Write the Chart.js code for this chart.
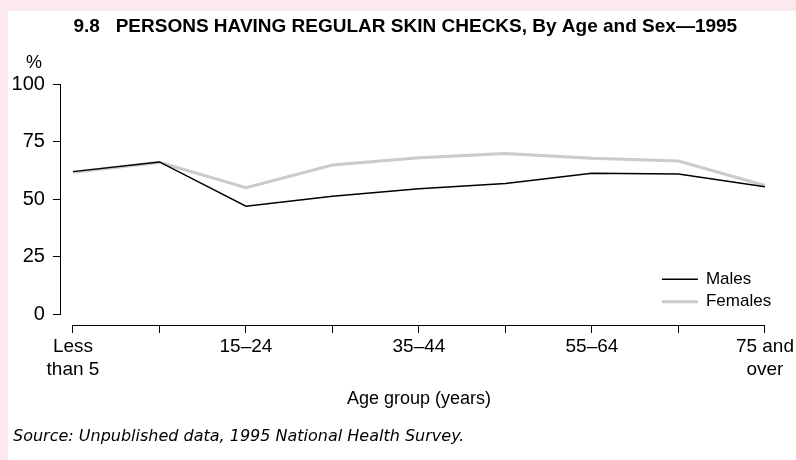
<!DOCTYPE html>
<html>
<head>
<meta charset="utf-8">
<script src="https://cdn.jsdelivr.net/npm/chart.js@4.4.1/dist/chart.umd.min.js"></script>
<style>
  html, body { margin: 0; padding: 0; }
  body { background: #fce8ef; width: 796px; height: 460px; position: relative; overflow: hidden; }
  #panel { position: absolute; left: 8px; top: 11px; width: 788px; height: 449px; background: #fff; }
  #myChart { position: absolute; left: 0; top: 0; }
</style>
</head>
<body>
<div id="panel"></div>
<canvas id="myChart" width="796" height="460"></canvas>
<script>
const categories = ['Less than 5', '5–14', '15–24', '25–34', '35–44', '45–54', '55–64', '65–74', '75 and over']
const tickLabels = [['Less', 'than 5'], '', '15–24', '', '35–44', '', '55–64', '', ['75 and', 'over']]
const males = [62.0, 66.2, 47.0, 51.3, 54.6, 56.9, 61.3, 61.0, 55.4]
const females = [61.7, 66.0, 55.0, 64.9, 68.0, 69.9, 67.8, 66.6, 56.0]
const yTicks = [0, 25, 50, 75, 100]

const FONT = '"Liberation Sans", Arial, sans-serif'
const SOURCE = 'Source: Unpublished data, 1995 National Health Survey.'

// "%" unit above the y axis
const percentSign = {
  id: 'percentSign',
  afterDraw(chart) {
    const ctx = chart.ctx
    const y = chart.scales.y
    ctx.save()
    ctx.font = '18px ' + FONT
    ctx.fillStyle = '#000'
    ctx.textAlign = 'center'
    ctx.textBaseline = 'middle'
    ctx.fillText('%', y.right - 27, chart.chartArea.top - 21)
    ctx.restore()
  }
}

// nudge the title right and the source note in, like the original
const boxShift = {
  id: 'boxShift',
  afterLayout(chart) {
    chart.boxes.forEach(b => {
      if (!b.options || b.options.text === undefined) return
      if (b === chart.titleBlock) b.left += 42
      else if (b.options.text === SOURCE) b.left += 9.4
      b.width = b.right - b.left
    })
  }
}

// line legend in the lower right of the plot
const lineLegend = {
  id: 'lineLegend',
  afterDraw(chart) {
    const ctx = chart.ctx
    const area = chart.chartArea
    ctx.save()
    ctx.font = '17px ' + FONT
    ctx.textBaseline = 'middle'
    ctx.textAlign = 'left'
    chart.data.datasets.forEach((ds, i) => {
      const y = area.bottom - 35.3 + i * 22.4
      ctx.strokeStyle = ds.borderColor
      ctx.lineWidth = ds.borderWidth
      ctx.beginPath()
      ctx.moveTo(area.right - 103, y)
      ctx.lineTo(area.right - 67, y)
      ctx.stroke()
      ctx.fillStyle = '#000'
      ctx.fillText(ds.label, area.right - 59, y)
    })
    ctx.restore()
  }
}

const ctx = document.getElementById('myChart').getContext('2d')
const myChart = new Chart(ctx, {
  type: 'line',
  data: {
    labels: categories,
    datasets: [{
      label: 'Males',
      data: males,
      borderColor: '#000000',
      borderWidth: 1.5,
      pointRadius: 0,
      tension: 0,
      xAxisID: 'x',
      yAxisID: 'y'
    }, {
      label: 'Females',
      data: females,
      borderColor: '#cbcbcb',
      borderWidth: 3,
      pointRadius: 0,
      tension: 0,
      xAxisID: 'x',
      yAxisID: 'y'
    }]
  },
  options: {
    responsive: false,
    animation: false,
    events: [],
    layout: { padding: { left: 3.6, right: 31, top: 0, bottom: 13.4 } },
    plugins: {
      legend: { display: false },
      tooltip: { enabled: false },
      title: {
        display: true,
        text: '9.8   PERSONS HAVING REGULAR SKIN CHECKS, By Age and Sex\u20141995',
        color: '#000',
        font: { family: FONT, size: 19, weight: 'bold' },
        padding: { top: 15.4, bottom: 45.8 }
      },
      subtitle: {
        display: true,
        position: 'bottom',
        align: 'start',
        text: SOURCE,
        color: '#000',
        font: { family: '"DejaVu Sans", sans-serif', size: 16, style: 'italic' },
        padding: { top: 17.4, bottom: 0 }
      }
    },
    scales: {
      x: {
        type: 'category',
        position: 'bottom',
        weight: 1,
        offset: false,
        grid: { drawOnChartArea: false, color: '#000', tickLength: 7 },
        border: { display: true, color: '#000', width: 1 },
        ticks: {
          autoSkip: false,
          maxRotation: 0,
          padding: 2,
          color: '#000',
          font: { family: FONT, size: 19, lineHeight: 1.232 },
          callback: (val, i) => tickLabels[i]
        },
        title: {
          display: true,
          text: 'Age group (years)',
          color: '#000',
          font: { family: FONT, size: 18 },
          padding: { top: 4.6, bottom: 0 }
        }
      },
      xs: {
        type: 'linear',
        position: 'bottom',
        weight: 0,
        grid: { color: 'transparent', drawOnChartArea: false, tickLength: 11.4 },
        border: { display: false },
        ticks: { display: false }
      },
      y: {
        type: 'linear',
        position: 'left',
        weight: 1,
        min: 0,
        max: 100,
        afterBuildTicks: scale => { scale.ticks = yTicks.map(v => ({ value: v })) },
        grid: { drawOnChartArea: false, color: '#000', tickLength: 8 },
        border: { display: true, color: '#000', width: 1 },
        ticks: { padding: 8, color: '#000', font: { family: FONT, size: 20 } }
      },
      ys: {
        type: 'linear',
        position: 'left',
        weight: 0,
        grid: { color: 'transparent', drawOnChartArea: false, tickLength: 12 },
        border: { display: false },
        ticks: { display: false }
      }
    }
  },
  plugins: [percentSign, boxShift, lineLegend]
})
</script>
</body>
</html>
